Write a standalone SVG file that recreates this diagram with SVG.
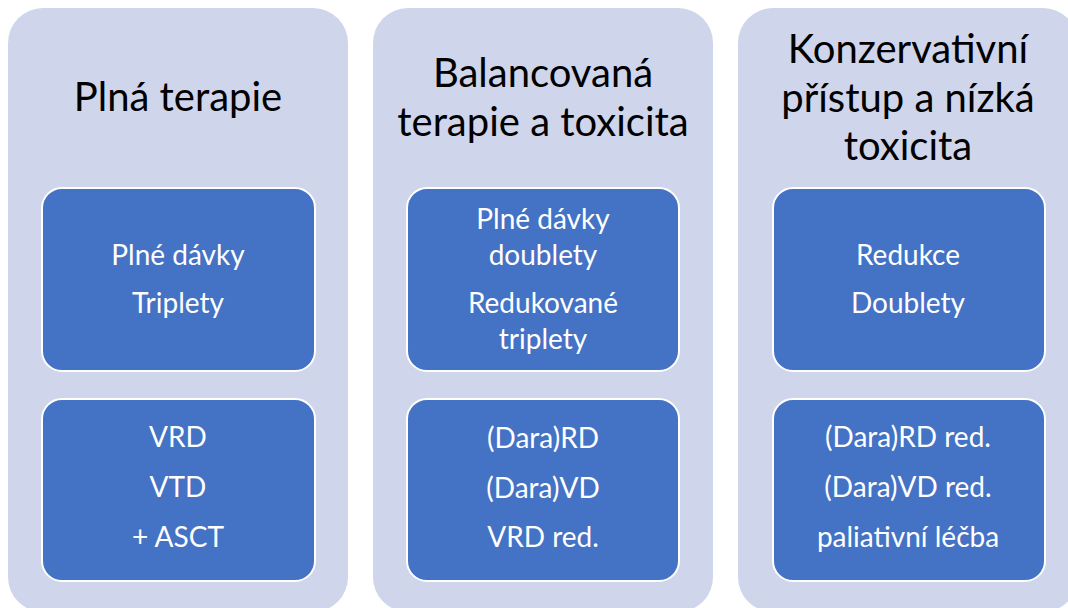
<svg xmlns="http://www.w3.org/2000/svg" width="1068" height="608" viewBox="0 0 1068 608">
<style>
.col{fill:#CFD5EA;}
.box{fill:#4472C4;stroke:#FFFFFF;stroke-width:2;}
.title{font-family:Lato,"Open Sans",sans-serif;font-size:40px;fill:#000;text-anchor:middle;}
.txt{font-family:Lato,"Open Sans",sans-serif;font-size:28px;fill:#FFFFFF;text-anchor:middle;}
</style>
<rect width="1068" height="608" fill="#FFFFFF"/>
<g id="col1">
<rect class="col" x="8" y="8" width="340" height="604" rx="35"/>
<text class="title" x="178" y="111">Plná terapie</text>
</g>
<g id="col1-top">
<rect class="box" x="42" y="188" width="273" height="183" rx="20"/>
<text class="txt" x="178" y="265">Plné dávky</text>
<text class="txt" x="178" y="313">Triplety</text>
</g>
<g id="col1-bottom">
<rect class="box" x="42" y="399" width="273" height="182" rx="20"/>
<text class="txt" x="178" y="447">VRD</text>
<text class="txt" x="178" y="497">VTD</text>
<text class="txt" x="178" y="547">+ ASCT</text>
</g>
<g id="col2">
<rect class="col" x="373" y="8" width="340" height="604" rx="35"/>
<text class="title" x="543" y="87">Balancovaná</text>
<text class="title" x="543" y="136">terapie a toxicita</text>
</g>
<g id="col2-top">
<rect class="box" x="407" y="188" width="272" height="183" rx="20"/>
<text class="txt" x="543" y="229">Plné dávky</text>
<text class="txt" x="543" y="265">doublety</text>
<text class="txt" x="543" y="313">Redukované</text>
<text class="txt" x="543" y="349">triplety</text>
</g>
<g id="col2-bottom">
<rect class="box" x="407" y="399" width="272" height="182" rx="20"/>
<text class="txt" x="543" y="448">(Dara)RD</text>
<text class="txt" x="543" y="498">(Dara)VD</text>
<text class="txt" x="543" y="547">VRD red.</text>
</g>
<g id="col3">
<rect class="col" x="738" y="8" width="340" height="604" rx="35"/>
<text class="title" x="908" y="63">Konzervativní</text>
<text class="title" x="908" y="112">přístup a nízká</text>
<text class="title" x="908" y="160">toxicita</text>
</g>
<g id="col3-top">
<rect class="box" x="773" y="188" width="272" height="183" rx="20"/>
<text class="txt" x="908" y="265">Redukce</text>
<text class="txt" x="908" y="313">Doublety</text>
</g>
<g id="col3-bottom">
<rect class="box" x="773" y="399" width="272" height="182" rx="20"/>
<text class="txt" x="908" y="447">(Dara)RD red.</text>
<text class="txt" x="908" y="497">(Dara)VD red.</text>
<text class="txt" x="908" y="547">paliativní léčba</text>
</g>
<g id="connectors"></g>
</svg>
